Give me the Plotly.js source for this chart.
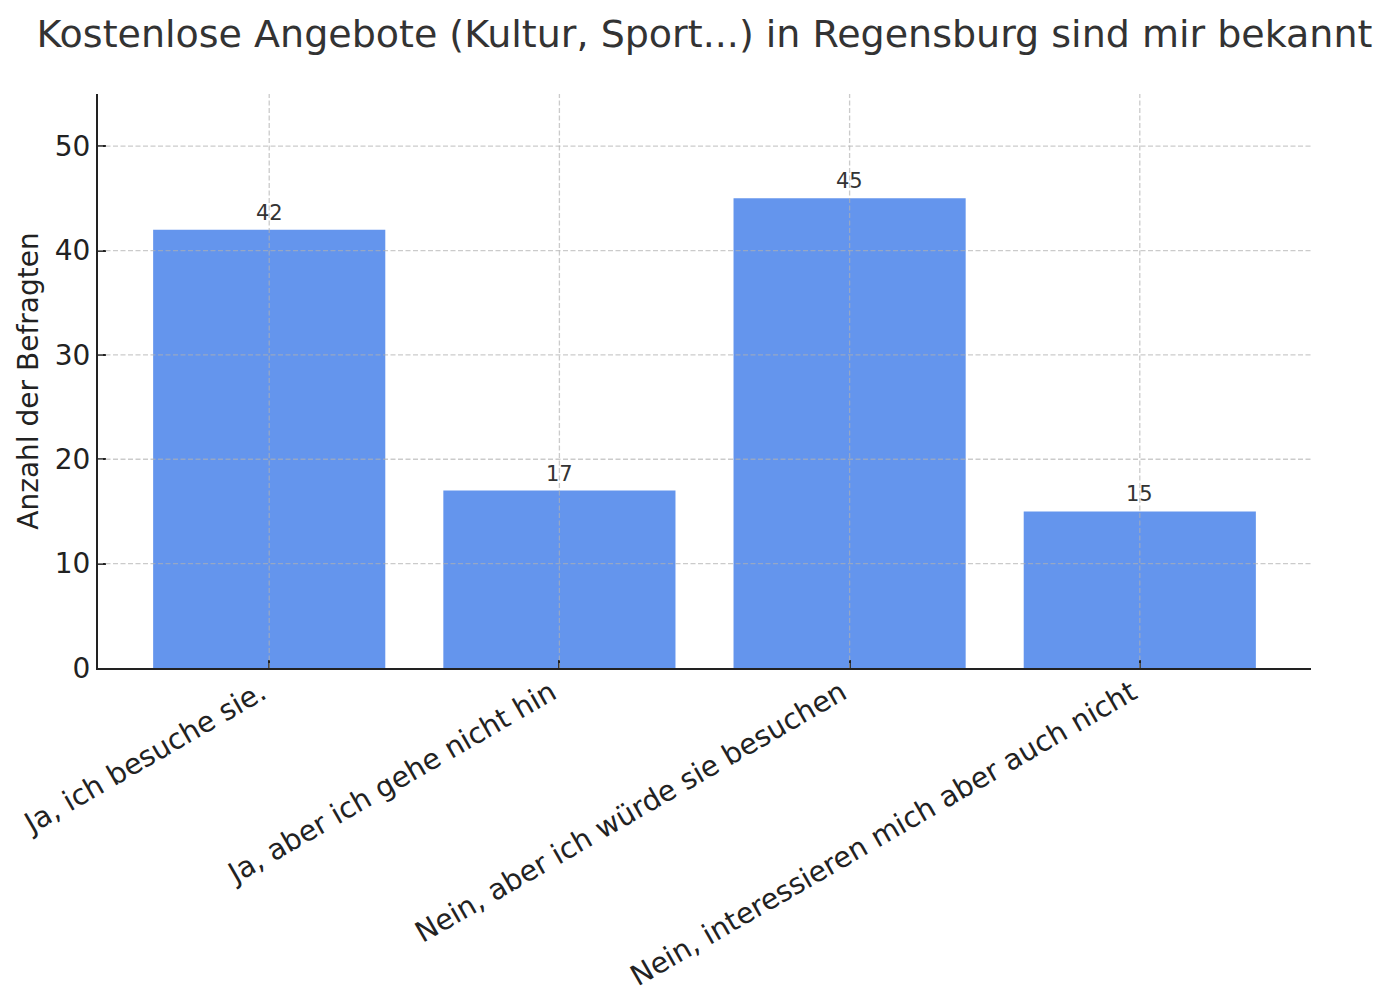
<!DOCTYPE html>
<html>
<head>
<meta charset="utf-8">
<script src="https://cdn.plot.ly/plotly-3.0.1.min.js"></script>
<style>html,body{margin:0;padding:0;background:#fff;}#chart{width:1387px;height:1006px;}</style>
</head>
<body>
<div id="chart"></div>
<script>
const categories = [
  "Ja, ich besuche sie.",
  "Ja, aber ich gehe nicht hin",
  "Nein, aber ich würde sie besuchen",
  "Nein, interessieren mich aber auch nicht"
];
const counts = [42, 17, 45, 15];
const yTickValues = [0, 10, 20, 30, 40, 50];
const titleText = "Kostenlose Angebote (Kultur, Sport...) in Regensburg sind mir bekannt";
const yTitleText = "Anzahl der Befragten";

const FONT = "DejaVu Sans, sans-serif";
const gridColor = "rgba(176,176,176,0.66)";

const shapes = [];
yTickValues.forEach(v => {
  if (v === 0) return;
  shapes.push({type: "line", xref: "paper", yref: "y", x0: 0, x1: 1, y0: v, y1: v,
    layer: "above", line: {color: gridColor, width: 1.3, dash: "5px,2.5px"}});
});
categories.forEach((c, i) => {
  shapes.push({type: "line", xref: "x", yref: "paper", x0: i, x1: i, y0: 0, y1: 1,
    layer: "above", line: {color: gridColor, width: 1.3, dash: "5px,2.5px"}});
});

const annotations = categories.map((c, i) => ({
  x: i, y: counts[i], xref: "x", yref: "y", text: String(counts[i]),
  showarrow: false, yanchor: "bottom", yshift: 3,
  font: {family: FONT, size: 21, color: "#333333"}
}));

const trace = {
  type: "bar",
  x: categories,
  y: counts,
  width: 0.8,
  marker: {color: "#6495ED", line: {width: 0}},
  hoverinfo: "x+y"
};

const layout = {
  width: 1387, height: 1006,
  margin: {l: 98, r: 76, t: 94, b: 338, pad: 0},
  paper_bgcolor: "#ffffff", plot_bgcolor: "#ffffff",
  font: {family: FONT, color: "#222222"},
  title: {text: titleText, font: {family: FONT, size: 38, color: "#333333"},
    xref: "paper", x: 0.5, xanchor: "center", yref: "container", y: 1 - 34/1006, yanchor: "middle"},
  showlegend: false,
  bargap: 0.2,
  xaxis: {
    type: "category",
    range: [-0.59, 3.59],
    tickangle: -30,
    tickfont: {family: FONT, size: 28.5, color: "#222222"},
    ticklabelshift: -8,
    ticklabelstandoff: -5,
    ticks: "inside", ticklen: 8, tickwidth: 2, tickcolor: "#222222",
    showline: true, linecolor: "#222222", linewidth: 2,
    showgrid: false, zeroline: false, fixedrange: true
  },
  yaxis: {
    range: [0, 55],
    tickvals: yTickValues,
    ticktext: yTickValues.map(String),
    tickfont: {family: FONT, size: 28, color: "#222222"},
    ticks: "inside", ticklen: 8, tickwidth: 2, tickcolor: "#222222",
    showline: true, linecolor: "#222222", linewidth: 2,
    showgrid: false, zeroline: false, fixedrange: true,
    title: {text: yTitleText, font: {family: FONT, size: 28, color: "#222222"}, standoff: 8}
  },
  shapes: shapes,
  annotations: annotations
};

Plotly.newPlot("chart", [trace], layout, {staticPlot: true, displayModeBar: false});
</script>
</body>
</html>
